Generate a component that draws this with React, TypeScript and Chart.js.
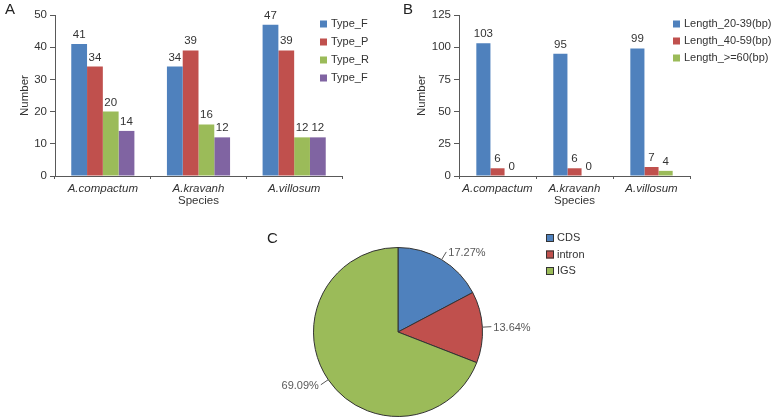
import React, { useEffect, useRef } from "react";
import { Chart, registerables } from "chart.js";

Chart.register(...registerables);

// ---------- data ----------
const species = ["A.compactum", "A.kravanh", "A.villosum"];

const typeLabels = ["Type_F", "Type_P", "Type_R", "Type_F"];
const typeF = [41, 34, 47];
const typeP = [34, 39, 39];
const typeR = [20, 16, 12];
const typeF2 = [14, 12, 12];

const lengthLabels = ["Length_20-39(bp)", "Length_40-59(bp)", "Length_>=60(bp)"];
const len20to39 = [103, 95, 99];
const len40to59 = [6, 6, 7];
const len60plus = [0, 0, 4];

const regionLabels = ["CDS", "intron", "IGS"];
const regionShare = [17.27, 13.64, 69.09];

const yMaxA = 50;
const yStepA = 10;
const yMaxB = 125;
const yStepB = 25;

// ---------- styles ----------
const BLUE = "#4F81BD";
const RED = "#C0504D";
const GREEN = "#9BBB59";
const PURPLE = "#8064A2";
const TEXT = "#333333";
const AXIS = "#595959";
const FONT = "'Liberation Sans', Arial, sans-serif";

Chart.defaults.font.family = FONT;
Chart.defaults.font.size = 11;
Chart.defaults.color = TEXT;

const barLabels = {
  id: "barLabels",
  afterDatasetsDraw(chart: any) {
    const ctx = chart.ctx;
    ctx.save();
    ctx.font = `11.5px ${FONT}`;
    ctx.fillStyle = TEXT;
    ctx.textAlign = "center";
    ctx.textBaseline = "alphabetic";
    chart.data.datasets.forEach((ds: any, i: number) => {
      const meta = chart.getDatasetMeta(i);
      meta.data.forEach((el: any, j: number) => {
        ctx.fillText(String(ds.data[j]), el.x, el.y - 6);
      });
    });
    ctx.restore();
  },
};

const boxLegend = {
  id: "boxLegend",
  afterDraw(chart: any, _args: any, opts: any) {
    if (!opts || opts.x === undefined) return;
    const ctx = chart.ctx;
    const dsets = chart.data.datasets;
    let items: { label: string; color: string }[];
    if (opts.fromLabels) {
      items = chart.data.labels.map((l: string, i: number) => ({
        label: l,
        color: dsets[0].backgroundColor[i],
      }));
    } else {
      items = dsets.map((d: any) => ({ label: d.label, color: d.backgroundColor }));
    }
    ctx.save();
    ctx.font = `11px ${FONT}`;
    ctx.textBaseline = "middle";
    ctx.textAlign = "left";
    items.forEach((it, i) => {
      const cy = opts.y + i * opts.gap;
      ctx.fillStyle = it.color;
      ctx.fillRect(opts.x, cy - opts.box / 2, opts.box, opts.box);
      if (opts.border) {
        ctx.strokeStyle = "#333";
        ctx.lineWidth = 1;
        ctx.strokeRect(opts.x + 0.5, cy - opts.box / 2 + 0.5, opts.box - 1, opts.box - 1);
      }
      ctx.fillStyle = TEXT;
      ctx.fillText(it.label, opts.x + opts.box + opts.textGap, cy);
    });
    ctx.restore();
  },
};

const pieLabels = {
  id: "pieLabels",
  afterDatasetsDraw(chart: any) {
    const ctx = chart.ctx;
    const ds = chart.data.datasets[0];
    const meta = chart.getDatasetMeta(0);
    ctx.save();
    ctx.font = `11px ${FONT}`;
    ctx.fillStyle = "#595959";
    ctx.strokeStyle = "#595959";
    ctx.lineWidth = 1;
    ctx.textBaseline = "middle";
    meta.data.forEach((arc: any, i: number) => {
      const p = arc.getProps(["x", "y", "startAngle", "endAngle", "outerRadius"], true);
      const mid = (p.startAngle + p.endAngle) / 2;
      const c = Math.cos(mid);
      const s = Math.sin(mid);
      const x0 = p.x + c * p.outerRadius;
      const y0 = p.y + s * p.outerRadius;
      const x1 = p.x + c * (p.outerRadius + 9);
      const y1 = p.y + s * (p.outerRadius + 9);
      ctx.beginPath();
      ctx.moveTo(x0, y0);
      ctx.lineTo(x1, y1);
      ctx.stroke();
      ctx.textAlign = c >= 0 ? "left" : "right";
      ctx.fillText(ds.data[i].toFixed(2) + "%", x1 + (c >= 0 ? 2 : -2), y1 + 1);
    });
    ctx.restore();
  },
};

function barScales(yMax: number, yStep: number, yAxisWidth: number, yTitlePad: number) {
  return {
    x: {
      grid: {
        display: true,
        drawOnChartArea: false,
        drawTicks: true,
        tickLength: 3,
        color: AXIS,
        offset: true,
      },
      border: { display: true, color: AXIS, width: 1 },
      ticks: { font: { size: 11.5, style: "italic" as const }, color: TEXT, padding: 3, maxRotation: 0 },
      title: {
        display: true,
        text: "Species",
        font: { size: 11.5 },
        color: TEXT,
        padding: { top: 0, bottom: 7 },
      },
      afterFit: (s: any) => {
        s.height = 39;
      },
    },
    y: {
      min: 0,
      max: yMax,
      grid: {
        display: true,
        drawOnChartArea: false,
        drawTicks: true,
        tickLength: 5,
        color: AXIS,
      },
      border: { display: true, color: AXIS, width: 1 },
      ticks: { stepSize: yStep, font: { size: 11.5 }, color: TEXT, padding: 3 },
      title: {
        display: true,
        text: "Number",
        font: { size: 11.5 },
        color: TEXT,
        padding: { top: yTitlePad, bottom: 0 },
      },
      afterFit: (s: any) => {
        s.width = yAxisWidth;
      },
    },
  };
}

function ChartA() {
  const ref = useRef<HTMLCanvasElement>(null);
  useEffect(() => {
    const chart = new Chart(ref.current!, {
      type: "bar",
      data: {
        labels: species,
        datasets: [
          { label: typeLabels[0], data: typeF, backgroundColor: BLUE },
          { label: typeLabels[1], data: typeP, backgroundColor: RED },
          { label: typeLabels[2], data: typeR, backgroundColor: GREEN },
          { label: typeLabels[3], data: typeF2, backgroundColor: PURPLE },
        ],
      },
      options: {
        responsive: false,
        animation: false,
        layout: { padding: { top: 15, right: 48, left: 0, bottom: 0 } },
        datasets: { bar: { categoryPercentage: 0.66, barPercentage: 1.0 } },
        scales: barScales(yMaxA, yStepA, 55, 18) as any,
        plugins: {
          legend: { display: false },
          tooltip: { enabled: false },
          boxLegend: { x: 320, y: 24, gap: 18, box: 7, textGap: 4, border: false },
        } as any,
      },
      plugins: [barLabels, boxLegend],
    });
    return () => chart.destroy();
  }, []);
  return (
    <canvas
      ref={ref}
      width={390}
      height={215}
      style={{ position: "absolute", left: 0, top: 0, width: 390, height: 215 }}
    />
  );
}

function ChartB() {
  const ref = useRef<HTMLCanvasElement>(null);
  useEffect(() => {
    const chart = new Chart(ref.current!, {
      type: "bar",
      data: {
        labels: species,
        datasets: [
          { label: lengthLabels[0], data: len20to39, backgroundColor: BLUE },
          { label: lengthLabels[1], data: len40to59, backgroundColor: RED },
          { label: lengthLabels[2], data: len60plus, backgroundColor: GREEN },
        ],
      },
      options: {
        responsive: false,
        animation: false,
        layout: { padding: { top: 15, right: 89, left: 0, bottom: 0 } },
        datasets: { bar: { categoryPercentage: 0.55, barPercentage: 1.0 } },
        scales: barScales(yMaxB, yStepB, 69, 25) as any,
        plugins: {
          legend: { display: false },
          tooltip: { enabled: false },
          boxLegend: { x: 283, y: 24, gap: 17, box: 7, textGap: 4, border: false },
        } as any,
      },
      plugins: [barLabels, boxLegend],
    });
    return () => chart.destroy();
  }, []);
  return (
    <canvas
      ref={ref}
      width={389}
      height={215}
      style={{ position: "absolute", left: 390, top: 0, width: 389, height: 215 }}
    />
  );
}

function ChartC() {
  const ref = useRef<HTMLCanvasElement>(null);
  useEffect(() => {
    const chart = new Chart(ref.current!, {
      type: "pie",
      data: {
        labels: regionLabels,
        datasets: [
          {
            data: regionShare,
            backgroundColor: [BLUE, RED, GREEN],
            borderColor: "#333333",
            borderWidth: 1,
          },
        ],
      },
      options: {
        responsive: false,
        animation: false,
        layout: { padding: { left: 63, right: 127, top: 32, bottom: 3 } },
        plugins: {
          legend: { display: false },
          tooltip: { enabled: false },
          boxLegend: { x: 296, y: 23, gap: 16.5, box: 8, textGap: 3, border: true, fromLabels: true },
        } as any,
      },
      plugins: [pieLabels, boxLegend],
    });
    return () => chart.destroy();
  }, []);
  return (
    <canvas
      ref={ref}
      width={360}
      height={205}
      style={{ position: "absolute", left: 250, top: 215, width: 360, height: 205 }}
    />
  );
}

const letterStyle: React.CSSProperties = {
  position: "absolute",
  fontFamily: FONT,
  fontSize: 15,
  lineHeight: "15px",
  color: "#222",
};

export default function App() {
  return (
    <div
      style={{
        position: "fixed",
        left: 0,
        top: 0,
        width: 779,
        height: 420,
        background: "#fff",
        overflow: "hidden",
      }}
    >
      <ChartA />
      <ChartB />
      <ChartC />
      <div style={{ ...letterStyle, left: 5, top: 1 }}>A</div>
      <div style={{ ...letterStyle, left: 403, top: 1 }}>B</div>
      <div style={{ ...letterStyle, left: 267, top: 230 }}>C</div>
    </div>
  );
}
